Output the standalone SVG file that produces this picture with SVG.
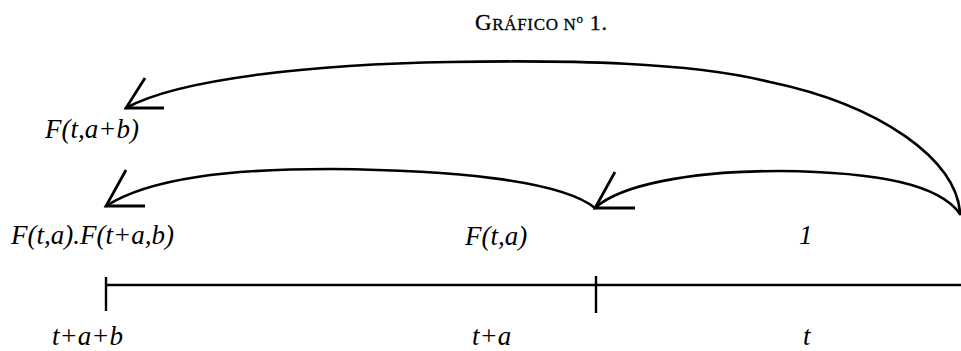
<svg xmlns="http://www.w3.org/2000/svg" width="961" height="351" viewBox="0 0 961 351">
<style>
.t{font-family:"Liberation Serif","Times New Roman",serif;font-style:italic;font-size:27px;fill:#000}
.h{font-family:"Liberation Serif","Times New Roman",serif;fill:#000;stroke:#000;stroke-width:0.3}
.arc{fill:none;stroke:#000;stroke-width:2.6;stroke-linecap:round}
.head{fill:none;stroke:#000;stroke-width:2.8;stroke-linecap:butt;stroke-linejoin:miter}
.ax{stroke:#000;stroke-width:2.4;fill:none}
</style>
<g id="title"><text class="h" x="475" y="30" textLength="132" lengthAdjust="spacing"><tspan font-size="23">G</tspan><tspan font-size="17">RÁFICO N</tspan><tspan font-size="13" dy="-7">o</tspan><tspan font-size="22" dy="7"> 1.</tspan></text></g>
<g id="connectors">
<path class="arc" d="M960,214 C958,160 880,105 770,82 C690,62 570,60 450,62 C320,64 180,78 126,108"/>
<path class="head" d="M145,78 L126,108 L164,108"/>
<path class="arc" d="M595,208 C560,180 450,170 330,169 C230,169 150,178 106,206"/>
<path class="head" d="M126,170 L106,206 L145,206"/>
<path class="arc" d="M960,214 C940,185 880,172 780,171 C690,171 620,185 595,208"/>
<path class="head" d="M615,172 L595,208 L635,208"/>
</g>
<g id="node-fab"><text class="t" x="45" y="138">F(t,a+b)</text></g>
<g id="node-prod"><text class="t" x="11" y="244">F(t,a).F(t+a,b)</text></g>
<g id="node-fa"><text class="t" x="465" y="245">F(t,a)</text></g>
<g id="node-one"><text class="t" x="799" y="244">1</text></g>
<g id="axis">
<line class="ax" x1="106" y1="285" x2="596" y2="285"/>
<line class="ax" x1="596" y1="285" x2="961" y2="285" stroke-width="3"/>
<line class="ax" x1="106" y1="277" x2="106" y2="311"/>
<line class="ax" x1="596" y1="276" x2="596" y2="313"/>
</g>
<g id="node-tab"><text class="t" x="52" y="345">t+a+b</text></g>
<g id="node-ta"><text class="t" x="472" y="345">t+a</text></g>
<g id="node-t"><text class="t" x="803" y="345">t</text></g>
</svg>
